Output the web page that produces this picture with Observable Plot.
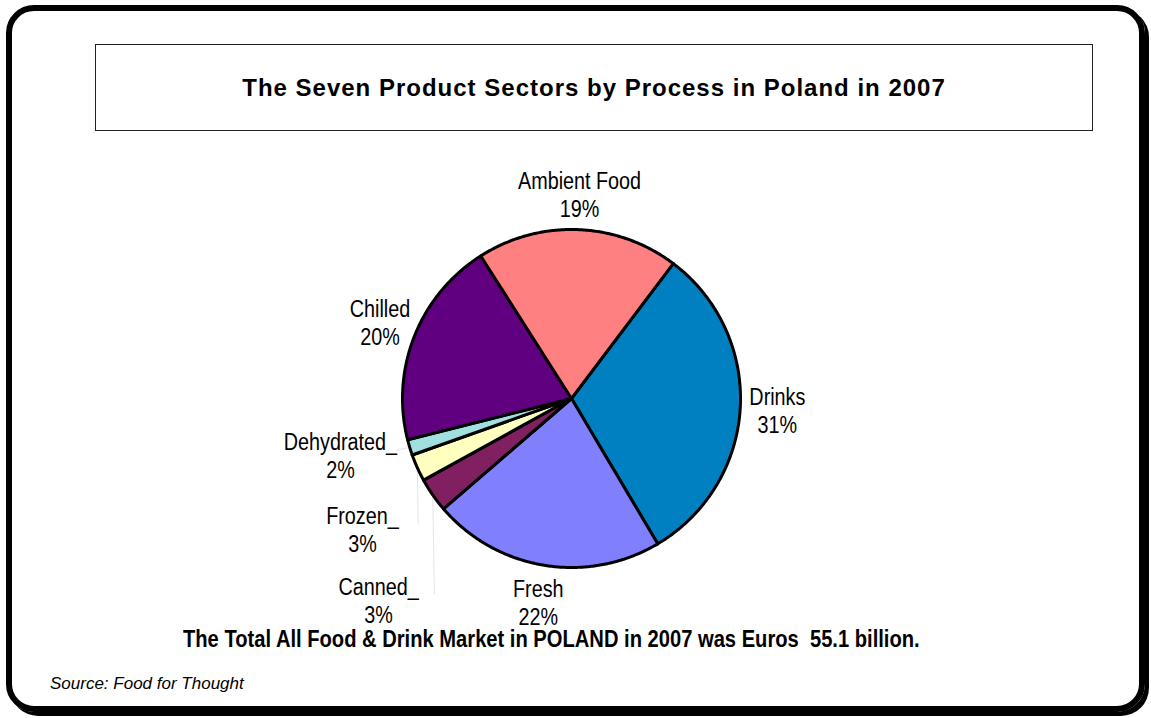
<!DOCTYPE html>
<html>
<head>
<meta charset="utf-8">
<script src="https://cdn.jsdelivr.net/npm/d3@7"></script>
<script src="https://cdn.jsdelivr.net/npm/@observablehq/plot@0.6"></script>
<style>
  body { margin: 0; background: white; }
  #page { position: relative; width: 1151px; height: 718px; background: white; overflow: hidden; }
  .frame { position: absolute; left: 6px; top: 5px; width: 1139px; height: 707px; box-sizing: border-box;
           border: 6px solid #000; border-radius: 28px; box-shadow: 4px 4px 0 #000; }
  .titlebox { position: absolute; left: 95px; top: 44px; width: 998px; height: 87px; box-sizing: border-box;
              border: 1px solid #222; display: flex; align-items: center; justify-content: center;
              font-family: "Liberation Sans", Arial, sans-serif; font-weight: bold; font-size: 24px;
              letter-spacing: 1px; color: #000; }
  #chart { position: absolute; left: 0; top: 140px; }
  .total { position: absolute; left: 183px; top: 626px; white-space: nowrap;
           font-family: "Liberation Sans", Arial, sans-serif; font-weight: bold; font-size: 23px; line-height: 26px;
           color: #000; transform: scaleX(0.876); transform-origin: left center; }
  .source { position: absolute; left: 50px; top: 674px; white-space: nowrap;
            font-family: "Liberation Sans", Arial, sans-serif; font-style: italic; font-size: 17px; line-height: 20px;
            color: #000; }
</style>
</head>
<body>
<div id="page">
  <div class="frame"></div>
  <div class="titlebox">The Seven Product Sectors by Process in Poland in 2007</div>
  <div id="chart"></div>
  <div class="total">The Total All Food &amp; Drink Market in POLAND in 2007 was Euros&nbsp;&nbsp;55.1 billion.</div>
  <div class="source">Source: Food for Thought</div>
</div>
<script>
// ---- data ----
const sectors = ["Drinks", "Fresh", "Canned", "Frozen", "Dehydrated", "Chilled", "Ambient Food"];
const shares = [31.2, 22.2, 3.3, 2.6, 1.5, 19.9, 19.3];
const labelNames = ["Drinks", "Fresh", "Canned_", "Frozen_", "Dehydrated_", "Chilled", "Ambient Food"];
const fills = ["#0080C0", "#8080FF", "#802060", "#FFFFC0", "#A0E0E0", "#600080", "#FF8080"];

// ---- layout (not data) ----
const startDeg = 37;                         // first slice starts here, clockwise from top
const labelRadius = [1.22, 1.22, 1.649, 1.457, 1.408, 1.22, 1.21];
const labelAngleDeg = [null, null, 223.8, 238.1, 256.2, null, null];
const leader = [false, false, true, true, true, false, false];
const cx = 571, cy = 258, r = 169, W = 1151, H = 490;
const labelCondense = 0.86;

const rad = Math.PI / 180;
const arcs = d3.pie().sort(null).startAngle(startDeg * rad).endAngle(startDeg * rad + 2 * Math.PI)(shares);

const slicePts = [];
arcs.forEach((a, i) => {
  slicePts.push({sector: sectors[i], x: 0, y: 0});
  const n = Math.max(2, Math.ceil((a.endAngle - a.startAngle) / (0.5 * rad)));
  for (let k = 0; k <= n; k++) {
    const t = a.startAngle + (a.endAngle - a.startAngle) * k / n;
    slicePts.push({sector: sectors[i], x: Math.sin(t), y: Math.cos(t)});
  }
});

const labels = arcs.map((a, i) => {
  const mid = (a.startAngle + a.endAngle) / 2;
  const ang = labelAngleDeg[i] == null ? mid : labelAngleDeg[i] * rad;
  const lx = labelRadius[i] * Math.sin(ang), ly = labelRadius[i] * Math.cos(ang);
  return {
    sector: sectors[i],
    text: labelNames[i] + "\n" + Math.round(shares[i]) + "%",
    x: lx, y: ly,
    rimX: Math.sin(mid), rimY: Math.cos(mid),
    endX: lx + 0.33, endY: ly + 0.03, hasLeader: leader[i]
  };
});
const leaders = labels.filter(d => d.hasLeader);

const chart = Plot.plot({
  width: W, height: H,
  margin: 0,
  style: {background: "none", overflow: "visible"},
  x: {domain: [-1, 1], range: [cx - r, cx + r], axis: null},
  y: {domain: [-1, 1], range: [cy + r, cy - r], axis: null},
  color: {domain: sectors, range: fills},
  marks: [
    Plot.link(leaders, {x1: "endX", y1: "endY", x2: "rimX", y2: "rimY", stroke: "#e4e4e4", strokeWidth: 1}),
    Plot.line(slicePts, {x: "x", y: "y", z: "sector", fill: "sector", stroke: "#000",
                         strokeWidth: 3, curve: "linear-closed", strokeLinejoin: "round"}),
    Plot.text(labels, {x: "x", y: "y", text: "text", fontSize: 23, lineHeight: 1.217, fill: "#000",
                       fontFamily: "'Liberation Sans', Arial, sans-serif"})
  ]
});
// condense label glyphs horizontally (narrow-font look), scaling about each anchor
d3.select(chart).selectAll("g[aria-label='text'] text").each(function() {
  const t = this.getAttribute("transform") || "";
  this.setAttribute("transform", t + ` scale(${labelCondense},1)`);
});
document.getElementById("chart").appendChild(chart);
</script>
</body>
</html>
